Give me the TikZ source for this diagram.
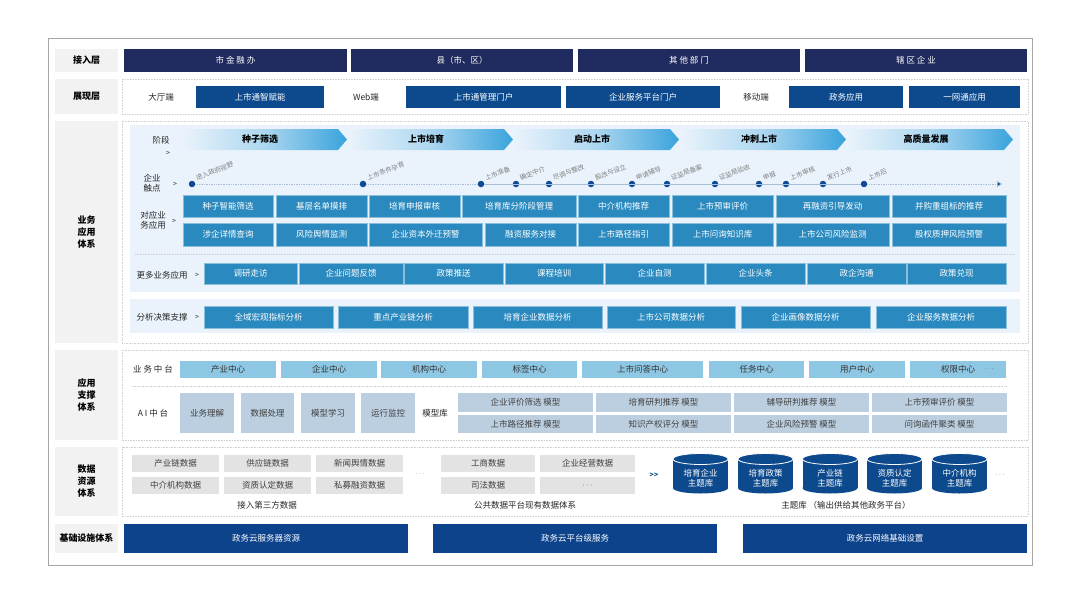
\documentclass[tikz,border=0pt]{standalone}
\usepackage{fontspec}
\setmainfont{Noto Sans CJK SC}
\usepackage{xcolor}
\usetikzlibrary{positioning,arrows.meta}
\definecolor{navy}{HTML}{1F2B5E}
\definecolor{portal}{HTML}{0C4A8D}
\definecolor{appblue}{HTML}{2A8ABF}
\definecolor{panel}{HTML}{EAF3FB}
\definecolor{lblgray}{HTML}{F2F2F2}
\definecolor{midblue}{HTML}{8EC7E3}
\definecolor{aiblue}{HTML}{BCCFE0}
\definecolor{datagray}{HTML}{E3E3E3}
\definecolor{infra}{HTML}{0D438B}
\definecolor{dotblue}{HTML}{0A4A96}
\definecolor{tlcolor}{HTML}{A8BEDA}
\definecolor{stageblue}{HTML}{3AA3DC}
\definecolor{framegray}{HTML}{A6A6A6}
\definecolor{dashgray}{HTML}{D0D0D0}
\tikzset{
  cell/.style n args={4}{at={({(#1+#3)/2},{(#2+#4)/2})}, minimum width={(#3)-(#1)}, minimum height={(#4)-(#2)}},
  box/.style={inner sep=0pt, align=center, font=\fontsize{8.5}{10}\selectfont},
  lblbox/.style={box, fill=lblgray, font=\fontsize{9}{12}\selectfont\bfseries},
  navybox/.style={box, fill=navy, text=white},
  portalbox/.style={box, fill=portal, text=white},
  appbox/.style={box, fill=appblue, draw=appblue!55!white, line width=0.6pt, text=white},
  midbox/.style={box, fill=midblue, text=black!80},
  aibox/.style={box, fill=aiblue, text=black!75},
  databox/.style={box, fill=datagray, text=black!75},
  infrabox/.style={box, fill=infra, text=white},
  cyltext/.style={box, text=white},
  lbltext/.style={box, text=black!85},
  arrtext/.style={box, text=black!85, font=\fontsize{7}{8}\selectfont},
  region/.style={draw=dashgray, densely dotted, line width=0.6pt},
  sepline/.style={draw=dashgray, densely dotted, line width=0.6pt},
  tpdot/.style={circle, fill=dotblue, minimum size=6.5pt, inner sep=0pt},
  tplabel/.style={font=\fontsize{6.6}{8}\selectfont, text=black!50, rotate=22, anchor=base west, inner sep=0pt},
  stagetxt/.style={box, font=\fontsize{9}{11}\selectfont\bfseries}
}

\begin{document}
\begin{tikzpicture}[x=1pt, y=-1pt]
  \useasboundingbox (0,0) rectangle (1080,606);
  \draw[framegray, line width=0.8pt, fill=white] (48,38) rectangle (1032,565);

  % left column
  \node[lblbox, cell={55}{49}{118}{72}] (lAccess) {接入层};
  \node[lblbox, cell={55}{79}{118}{114}] (lShow) {展现层};
  \node[lblbox, cell={55}{121}{118}{343}] (lBiz) {业务\\应用\\体系};
  \node[lblbox, cell={55}{350}{118}{440}] (lSup) {应用\\支撑\\体系};
  \node[lblbox, cell={55}{447}{118}{516}] (lData) {数据\\资源\\体系};
  \node[lblbox, cell={55}{524}{118}{553}] (lInfra) {基础设施体系};

  \draw[region] (122,79) rectangle (1028,114);
  \draw[region] (122,121) rectangle (1028,343);
  \draw[region] (122,350) rectangle (1028,440);
  \draw[region] (122,447) rectangle (1028,516);
  \fill[panel] (130,125) rectangle (1020,292);
  \fill[panel] (130,299) rectangle (1020,333);

  % access layer
  \foreach \xa/\xb/\txt [count=\i] in {124/347/市 金 融 办, 351/573/县（市、区）, 578/800/其 他 部 门, 805/1027/辖 区 企 业}
    \node[navybox, cell={\xa}{49}{\xb}{72}] (ac\i) {\txt};

  % presentation layer
  \node[lbltext] (tHall) at (161,97) {大厅端};
  \node[lbltext] (tWeb) at (366,97) {Web端};
  \node[lbltext] (tMob) at (756,97) {移动端};
  \foreach \xa/\xb/\txt [count=\i] in {196/324/上市通智赋能, 406/561/上市通管理门户, 566/720/企业服务平台门户, 789/903/政务应用, 909/1020/一网通应用}
    \node[portalbox, cell={\xa}{86}{\xb}{108}] (pt\i) {\txt};

  % stages
  \node[lbltext] (tStage) at (161,140) {阶段};
  \node[arrtext] (gStage) at (168,153) {>};
  \foreach \t/\txt [count=\i] in {347/种子筛选, 513/上市培育, 679/启动上市, 846/冲刺上市, 1013/高质量发展}{
    \shade[left color=panel, right color=stageblue, middle color=stageblue!35!panel]
      (\t-166,129) -- (\t-9,129) -- (\t,139.5) -- (\t-9,150) -- (\t-166,150) -- cycle;
    \node[stagetxt] (st\i) at (\t-87,139.5) {\txt};
  }

  % touch points
  \node[lbltext] (tTouch) at (152,183) {企业\\触点};
  \node[arrtext] (gTouch) at (175,184) {>};
  \coordinate (tpEnd) at (1002,184);
  \foreach \x/\txt [count=\i] in {192/进入政府视野, 363/上市条件孕育, 481/上市准备, 516/确定中介, 549/尽调与整改, 591/股改与设立, 632/申请辅导, 667/证监局备案, 715/证监局验收, 759/申报, 786/上市审核, 823/发行上市, 864/上市后}{
    \node[tpdot] (tp\i) at (\x,184) {};
    \node[tplabel] (tl\i) at (\x+5,181) {\txt};
  }
  \draw[tlcolor, densely dotted, line width=0.7pt] (tp1) -- (tp2) -- (tp3);
  \draw[tlcolor, line width=0.9pt] (tp3) \foreach \i in {4,...,13}{ -- (tp\i)};
  \draw[tlcolor, densely dotted, line width=0.7pt, -{Triangle[length=5pt, width=6pt, fill=dotblue]}] (tp13) -- (tpEnd);

  % business applications
  \node[lbltext] (tApp) at (153,220) {对应业\\务应用};
  \node[arrtext] (gApp) at (174,221) {>};
  \foreach \xa/\xb/\txt [count=\i] in {183/273/种子智能筛选, 276/367/基层名单摸排, 369/460/培育申报审核, 462/576/培育库分阶段管理, 578/669/中介机构推荐, 672/773/上市预审评价, 776/889/再融资引导发动, 892/1006/并购重组标的推荐}
    \node[appbox, cell={\xa}{195}{\xb}{217}] (ua\i) {\txt};
  \foreach \xa/\xb/\txt [count=\i] in {183/273/涉企详情查询, 276/367/风险舆情监测, 369/482/企业资本外迁预警, 485/576/融资服务对接, 578/669/上市路径指引, 672/773/上市问询知识库, 776/889/上市公司风险监测, 892/1006/股权质押风险预警}
    \node[appbox, cell={\xa}{223}{\xb}{246}] (ub\i) {\txt};
  \draw[sepline] (135,254) -- (1015,254);

  \node[lbltext] (tMore) at (162,275) {更多业务应用};
  \node[arrtext] (gMore) at (197,275) {>};
  \foreach \xa/\xb/\txt [count=\i] in {204/297/调研走访, 299/403/企业问题反馈, 404/503/政策推送, 505/603/课程培训, 605/704/企业自测, 706/805/企业头条, 807/906/政企沟通, 907/1006/政策兑现}
    \node[appbox, cell={\xa}{263}{\xb}{284}] (um\i) {\txt};

  \node[lbltext] (tAna) at (162,317) {分析决策支撑};
  \node[arrtext] (gAna) at (197,317) {>};
  \foreach \xa/\xb/\txt [count=\i] in {204/333/全域宏观指标分析, 338/468/重点产业链分析, 473/602/培育企业数据分析, 607/735/上市公司数据分析, 741/870/企业画像数据分析, 876/1006/企业服务数据分析}
    \node[appbox, cell={\xa}{306}{\xb}{328}] (an\i) {\txt};

  % support layer
  \node[lbltext] (tMid) at (153,369) {业 务 中 台};
  \foreach \xa/\xb/\txt [count=\i] in {180/276/产业中心, 281/377/企业中心, 381/477/机构中心, 482/577/标签中心, 582/703/上市问答中心, 709/804/任务中心, 809/905/用户中心, 910/1006/权限中心}
    \node[midbox, cell={\xa}{361}{\xb}{378}] (mc\i) {\txt};
  \node[lbltext, text=black!70, font=\fontsize{7}{8}\selectfont] (mcMore) at (989,369) {$\cdots$};
  \draw[sepline] (132,386) -- (1006,386);

  \node[lbltext] (tAI) at (153,413) {A I 中 台};
  \foreach \xa/\xb/\txt [count=\i] in {180/234/业务理解, 241/294/数据处理, 301/355/模型学习, 361/415/运行监控}
    \node[aibox, cell={\xa}{393}{\xb}{433}] (ai\i) {\txt};
  \node[lbltext] (tLib) at (435,413) {模型库};
  \foreach \xa/\xb/\txt [count=\i] in {458/593/企业评价筛选 模型, 596/731/培育研判推荐 模型, 734/869/辅导研判推荐 模型, 872/1007/上市预审评价 模型}
    \node[aibox, cell={\xa}{393}{\xb}{412}] (ma\i) {\txt};
  \foreach \xa/\xb/\txt [count=\i] in {458/593/上市路径推荐 模型, 596/731/知识产权评分 模型, 734/869/企业风险预警 模型, 872/1007/问询函件聚类 模型}
    \node[aibox, cell={\xa}{415}{\xb}{433}] (mb\i) {\txt};

  % data layer
  \foreach \xa/\xb/\txt [count=\i] in {132/219/产业链数据, 224/311/供应链数据, 316/403/新闻舆情数据}
    \node[databox, cell={\xa}{455}{\xb}{472}] (da\i) {\txt};
  \foreach \xa/\xb/\txt [count=\i] in {132/219/中介机构数据, 224/311/资质认定数据, 316/403/私募融资数据}
    \node[databox, cell={\xa}{477}{\xb}{494}] (db\i) {\txt};
  \node[lbltext, text=black!50, font=\fontsize{6}{7}\selectfont] (dMore) at (420,474) {$\cdots$};
  \node[databox, cell={441}{455}{535}{472}] (pa1) {工商数据};
  \node[databox, cell={540}{455}{635}{472}] (pa2) {企业经营数据};
  \node[databox, cell={441}{477}{535}{494}] (pb1) {司法数据};
  \node[databox, cell={540}{477}{635}{494}] (pb2) {$\cdots$};
  \node[lbltext] (cThird) at (267,505) {接入第三方数据};
  \node[lbltext] (cPub) at (525,505) {公共数据平台现有数据体系};
  \node[lbltext, text=portal, font=\fontsize{7}{8}\selectfont\bfseries] (gData) at (654,475) {{>}{>}};
  \foreach \x/\txt [count=\i] in {700.5/培育企业, 765.5/培育政策, 830/产业链, 894.5/资质认定, 959.5/中介机构}{
    \fill[portal] (\x-27.5,459) rectangle (\x+27.5,488);
    \fill[portal] (\x,488) ellipse (27.5 and 5.5);
    \filldraw[fill=portal, draw=white, line width=0.8pt] (\x,459) ellipse (27.5 and 5.5);
    \node[cyltext] (cy\i) at (\x,478) {\txt\\主题库};
  }
  \node[lbltext, text=black!60, font=\fontsize{7}{8}\selectfont] (cyMore) at (1000,475) {$\cdots$};
  \node[lbltext] (cTheme) at (846,505) {主题库 （输出供给其他政务平台）};

  % infrastructure
  \foreach \xa/\xb/\txt [count=\i] in {124/408/政务云服务器资源, 433/717/政务云平台级服务, 743/1027/政务云网络基础设置}
    \node[infrabox, cell={\xa}{524}{\xb}{553}] (in\i) {\txt};
\end{tikzpicture}
\end{document}
